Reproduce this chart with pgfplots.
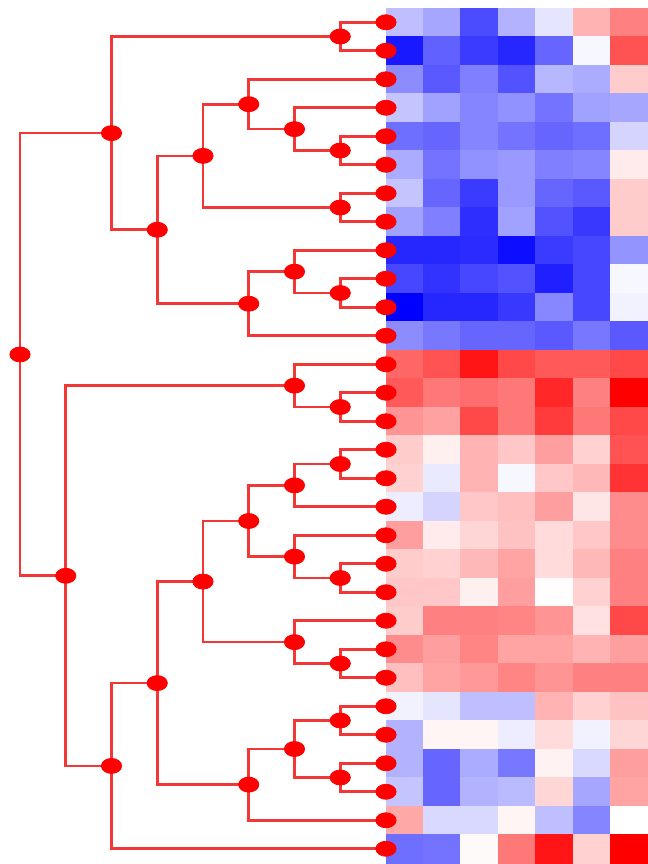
\documentclass[border=0pt]{standalone}
\usepackage{pgfplots}
\pgfplotsset{compat=1.18}
\definecolor{dred}{RGB}{242,55,55}
\definecolor{nred}{RGB}{255,0,0}
\newcommand{\lnk}[5]{\addplot[dred, line width=1.3pt, mark=none] coordinates {(#1,#2) (#3,#2) (#3,#5) (#4,#5)};}
\pgfplotstableread{
x y v
0 1 -0.25
1 1 -0.35
2 1 -0.70
3 1 -0.30
4 1 -0.10
5 1 0.30
6 1 0.50
0 2 -0.90
1 2 -0.62
2 2 -0.77
3 2 -0.85
4 2 -0.60
5 2 -0.03
6 2 0.68
0 3 -0.45
1 3 -0.65
2 3 -0.50
3 3 -0.68
4 3 -0.28
5 3 -0.33
6 3 0.20
0 4 -0.23
1 4 -0.37
2 4 -0.48
3 4 -0.43
4 4 -0.55
5 4 -0.37
6 4 -0.35
0 5 -0.57
1 5 -0.60
2 5 -0.48
3 5 -0.55
4 5 -0.60
5 5 -0.57
6 5 -0.17
0 6 -0.33
1 6 -0.55
2 6 -0.43
3 6 -0.40
4 6 -0.50
5 6 -0.48
6 6 0.08
0 7 -0.23
1 7 -0.60
2 7 -0.77
3 7 -0.40
4 7 -0.60
5 7 -0.65
6 7 0.20
0 8 -0.37
1 8 -0.50
2 8 -0.82
3 8 -0.37
4 8 -0.68
5 8 -0.78
6 8 0.20
0 9 -0.85
1 9 -0.85
2 9 -0.83
3 9 -0.95
4 9 -0.77
5 9 -0.72
6 9 -0.42
0 10 -0.72
1 10 -0.80
2 10 -0.72
3 10 -0.68
4 10 -0.88
5 10 -0.72
6 10 -0.03
0 11 -1.00
1 11 -0.85
2 11 -0.85
3 11 -0.78
4 11 -0.47
5 11 -0.72
6 11 -0.05
0 12 -0.45
1 12 -0.53
2 12 -0.60
3 12 -0.60
4 12 -0.65
5 12 -0.53
6 12 -0.65
0 13 0.60
1 13 0.68
2 13 0.92
3 13 0.72
4 13 0.65
5 13 0.65
6 13 0.72
0 14 0.65
1 14 0.53
2 14 0.57
3 14 0.53
4 14 0.85
5 14 0.50
6 14 1.00
0 15 0.42
1 15 0.37
2 15 0.72
3 15 0.53
4 15 0.77
5 15 0.53
6 15 0.72
0 16 0.20
1 16 0.06
2 16 0.30
3 16 0.22
4 16 0.38
5 16 0.18
6 16 0.68
0 17 0.18
1 17 -0.08
2 17 0.30
3 17 -0.03
4 17 0.22
5 17 0.28
6 17 0.80
0 18 -0.07
1 18 -0.17
2 18 0.22
3 18 0.25
4 18 0.38
5 18 0.10
6 18 0.45
0 19 0.38
1 19 0.08
2 19 0.16
3 19 0.24
4 19 0.14
5 19 0.22
6 19 0.45
0 20 0.20
1 20 0.18
2 20 0.28
3 20 0.36
4 20 0.14
5 20 0.28
6 20 0.50
0 21 0.22
1 21 0.22
2 21 0.06
3 21 0.38
4 21 0.01
5 21 0.18
6 21 0.50
0 22 0.20
1 22 0.50
2 22 0.50
3 22 0.48
4 22 0.42
5 22 0.12
6 22 0.72
0 23 0.45
1 23 0.38
2 23 0.48
3 23 0.36
4 23 0.36
5 23 0.30
6 23 0.38
0 24 0.25
1 24 0.36
2 24 0.40
3 24 0.48
4 24 0.42
5 24 0.50
6 24 0.50
0 25 -0.05
1 25 -0.10
2 25 -0.25
3 25 -0.25
4 25 0.30
5 25 0.18
6 25 0.24
0 26 -0.30
1 26 0.04
2 26 0.04
3 26 -0.07
4 26 0.14
5 26 -0.05
6 26 0.16
0 27 -0.30
1 27 -0.60
2 27 -0.33
3 27 -0.53
4 27 0.05
5 27 -0.15
6 27 0.38
0 28 -0.23
1 28 -0.60
2 28 -0.30
3 28 -0.27
4 28 0.16
5 28 -0.35
6 28 0.36
0 29 0.34
1 29 -0.15
2 29 -0.15
3 29 0.04
4 29 -0.25
5 29 -0.48
6 29 0.00
0 30 -0.57
1 30 -0.55
2 30 0.02
3 30 0.53
4 30 0.92
5 30 0.18
6 30 1.00
}\heat
\begin{document}
\begin{tikzpicture}
\path (0,0) rectangle (324pt,432pt);
\begin{axis}[at={(193pt,0.5pt)}, anchor=south west, scale only axis,
  width=131pt, height=427.5pt, xmin=-0.5, xmax=6.5, ymin=0.5, ymax=30.5,
  y dir=reverse, hide axis,
  colormap={bwr}{rgb255=(0,0,255) rgb255=(255,255,255) rgb255=(255,0,0)},
  point meta min=-1, point meta max=1]
\addplot[matrix plot*, mesh/cols=7, point meta=explicit] table[x=x, y=y, meta=v] {\heat};
\end{axis}
\begin{axis}[at={(0pt,0.5pt)}, anchor=south west, scale only axis,
  width=324pt, height=427.5pt, xmin=-5.7268, xmax=8.4372, x dir=reverse,
  ymin=0.5, ymax=30.5, y dir=reverse, hide axis, clip=false]
\lnk{0}{1}{1}{0}{2}
\lnk{0}{5}{1}{0}{6}
\lnk{0}{4}{2}{1}{5.5}
\lnk{0}{3}{3}{2}{4.75}
\lnk{0}{7}{1}{0}{8}
\lnk{3}{3.875}{4}{1}{7.5}
\lnk{0}{10}{1}{0}{11}
\lnk{0}{9}{2}{1}{10.5}
\lnk{2}{9.75}{3}{0}{12}
\lnk{4}{5.6875}{5}{3}{10.875}
\lnk{1}{1.5}{6}{5}{8.28125}
\lnk{0}{14}{1}{0}{15}
\lnk{0}{13}{2}{1}{14.5}
\lnk{0}{16}{1}{0}{17}
\lnk{1}{16.5}{2}{0}{18}
\lnk{0}{20}{1}{0}{21}
\lnk{0}{19}{2}{1}{20.5}
\lnk{2}{17.25}{3}{2}{19.75}
\lnk{0}{23}{1}{0}{24}
\lnk{0}{22}{2}{1}{23.5}
\lnk{3}{18.5}{4}{2}{22.75}
\lnk{0}{25}{1}{0}{26}
\lnk{0}{27}{1}{0}{28}
\lnk{1}{25.5}{2}{1}{27.5}
\lnk{2}{26.5}{3}{0}{29}
\lnk{4}{20.625}{5}{3}{27.75}
\lnk{5}{24.1875}{6}{0}{30}
\lnk{2}{13.75}{7}{6}{27.09375}
\lnk{6}{4.890625}{8}{7}{20.421875}
\addplot[only marks, mark=*, mark size=3.75pt, mark options={xscale=1.35, fill=nred, draw=nred}] coordinates {
(0,1) (0,2) (0,3) (0,4) (0,5) (0,6) (0,7) (0,8) (0,9) (0,10)
(0,11) (0,12) (0,13) (0,14) (0,15) (0,16) (0,17) (0,18) (0,19) (0,20)
(0,21) (0,22) (0,23) (0,24) (0,25) (0,26) (0,27) (0,28) (0,29) (0,30)
(1,1.5) (1,5.5) (2,4.75) (3,3.875) (1,7.5) (4,5.6875) (1,10.5) (2,9.75)
(3,10.875) (5,8.28125) (6,4.890625) (1,14.5) (2,13.75) (1,16.5) (2,17.25)
(1,20.5) (2,19.75) (3,18.5) (1,23.5) (2,22.75) (4,20.625) (1,25.5)
(1,27.5) (2,26.5) (3,27.75) (5,24.1875) (6,27.09375) (7,20.421875)
(8,12.65625)
};
\end{axis}
\end{tikzpicture}
\end{document}
